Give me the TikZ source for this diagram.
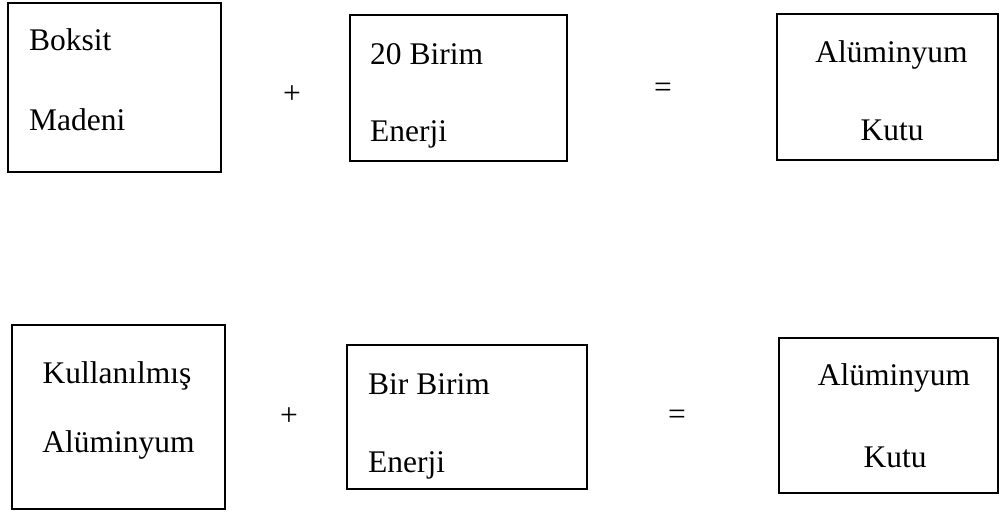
\documentclass[tikz,border=0pt]{standalone}
\usepackage{fontspec}
\setmainfont{Liberation Serif}
\begin{document}
\begin{tikzpicture}[x=1pt,y=-1pt,
  box/.style={draw=black,line width=1.5pt,rectangle,inner sep=0pt},
  lbl/.style={inner sep=0pt,font=\fontsize{31.5}{38}\selectfont},
  lw/.style={lbl,anchor=base west},
  lc/.style={lbl,anchor=base},
  op/.style={lbl,anchor=center}]
\useasboundingbox (0,0) rectangle (1000,511);
% row 1
\node[box,minimum width=213pt,minimum height=169pt] (b1) at (114.5,87.5) {};
\node[box,minimum width=217pt,minimum height=146pt] (b2) at (458.5,88) {};
\node[box,minimum width=221pt,minimum height=146pt] (b3) at (887.5,87) {};
\node[lw] (t1) at (29,51) {Boksit};
\node[lw] (t2) at (29,130) {Madeni};
\node[op] (p1) at (292,95) {+};
\node[lw] (t3) at (370,64) {20 Birim};
\node[lw] (t4) at (370,141) {Enerji};
\node[op] (e1) at (663,90) {=};
\node[lc] (t5) at (891.5,63) {Alüminyum};
\node[lc] (t6) at (892,140) {Kutu};
% row 2
\node[box,minimum width=213pt,minimum height=184pt] (b4) at (118.5,417) {};
\node[box,minimum width=240pt,minimum height=144pt] (b5) at (467,417) {};
\node[box,minimum width=219pt,minimum height=155pt] (b6) at (888.5,415.5) {};
\node[lc] (t7) at (117,383) {Kullanılmış};
\node[lc] (t8) at (118.5,452) {Alüminyum};
\node[op] (p2) at (289,417) {+};
\node[lw] (t9) at (368,394) {Bir Birim};
\node[lw] (t10) at (368,472) {Enerji};
\node[op] (e2) at (677,417) {=};
\node[lc] (t11) at (894,385) {Alüminyum};
\node[lc] (t12) at (895,467) {Kutu};
\end{tikzpicture}
\end{document}
